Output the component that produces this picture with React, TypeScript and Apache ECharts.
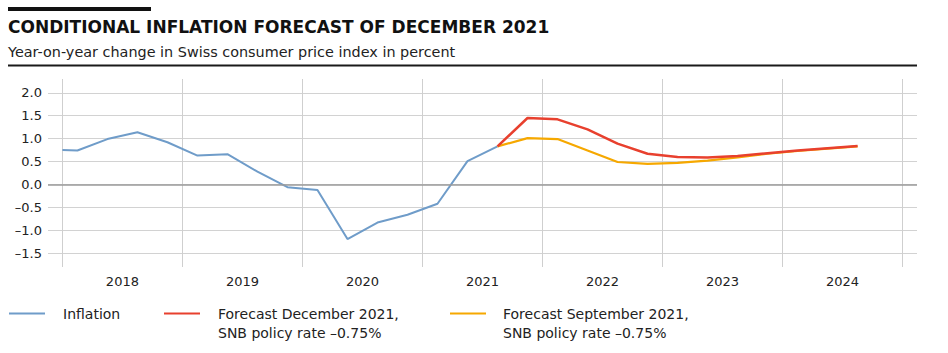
import React, { useEffect, useRef } from "react";
import * as echarts from "echarts";

const TITLE = "CONDITIONAL INFLATION FORECAST OF DECEMBER 2021";
const SUBTITLE = "Year-on-year change in Swiss consumer price index in percent";

const yearTicks = [2018, 2019, 2020, 2021, 2022, 2023, 2024, 2025];
const yearLabelPositions = [2018.5, 2019.5, 2020.5, 2021.5, 2022.5, 2023.5, 2024.5];
const yTicks = [-1.5, -1.0, -0.5, 0.0, 0.5, 1.0, 1.5, 2.0];

const inflationTime = [
  2018.0, 2018.125, 2018.375, 2018.625, 2018.875,
  2019.125, 2019.375, 2019.625, 2019.875,
  2020.125, 2020.375, 2020.625, 2020.875,
  2021.125, 2021.375, 2021.625,
];
const inflationValues = [
  0.75, 0.74, 0.99, 1.14, 0.92,
  0.63, 0.66, 0.28, -0.06,
  -0.12, -1.19, -0.83, -0.66,
  -0.42, 0.51, 0.83,
];

const forecastTime = [
  2021.625, 2021.875,
  2022.125, 2022.375, 2022.625, 2022.875,
  2023.125, 2023.375, 2023.625, 2023.875,
  2024.125, 2024.375, 2024.625,
];
const forecastDec2021 = [0.83, 1.45, 1.42, 1.2, 0.89, 0.67, 0.6, 0.59, 0.62, 0.68, 0.74, 0.79, 0.84];
const forecastSep2021 = [0.83, 1.01, 0.99, 0.74, 0.49, 0.45, 0.47, 0.52, 0.59, 0.67, 0.73, 0.78, 0.83];

const seriesNames = [
  "Inflation",
  "Forecast December 2021,\nSNB policy rate \u20130.75%",
  "Forecast September 2021,\nSNB policy rate \u20130.75%",
];
const seriesColors = ["#6f9cc9", "#e8402e", "#f6a800"];

const FONT = "DejaVu Sans";

function zip(xs: number[], ys: number[]) {
  return xs.map((x, i) => [x, ys[i]]);
}

export default function App() {
  const ref = useRef<HTMLDivElement>(null);
  useEffect(() => {
    if (!ref.current) return;
    const chart = echarts.init(ref.current, undefined, { renderer: "svg" });

    const legendX = [
      { line: [9, 45], text: 63 },
      { line: [164, 200], text: 218 },
      { line: [450, 486], text: 503 },
    ];
    const legendGraphics: any[] = [];
    seriesNames.forEach((name, i) => {
      legendGraphics.push({
        type: "line",
        shape: { x1: legendX[i].line[0], y1: 313.5, x2: legendX[i].line[1], y2: 313.5 },
        style: { stroke: seriesColors[i], lineWidth: 2 },
      });
      legendGraphics.push({
        type: "text",
        x: legendX[i].text,
        y: 304,
        style: {
          text: name,
          font: `14px "${FONT}"`,
          fill: "#222",
          textAlign: "left",
          textVerticalAlign: "top",
          lineHeight: 19,
        },
      });
    });

    chart.setOption({
      animation: false,
      grid: { left: 48, right: 31, top: 79, bottom: 86, containLabel: false },
      xAxis: {
        type: "value",
        min: 2017.88,
        max: 2025.12,
        axisLine: { show: false },
        axisTick: { show: false, customValues: yearTicks },
        splitLine: { show: true, lineStyle: { color: "#cfcfcf", width: 1 } },
        axisLabel: {
          customValues: yearLabelPositions,
          formatter: (v: number) => String(Math.floor(v)),
          fontFamily: FONT,
          fontSize: 13,
          color: "#222",
          margin: 8,
        },
      },
      yAxis: {
        type: "value",
        min: -1.8,
        max: 2.3,
        axisLine: { show: false },
        axisTick: { show: false, customValues: yTicks },
        splitLine: { show: true, lineStyle: { color: "#d2d2d2", width: 1 } },
        axisLabel: {
          customValues: yTicks,
          formatter: (v: number) => (v < 0 ? "\u2013" + Math.abs(v).toFixed(1) : v.toFixed(1)),
          fontFamily: FONT,
          fontSize: 13,
          color: "#222",
          margin: 6,
        },
      },
      graphic: [
        { type: "rect", shape: { x: 8, y: 7, width: 143, height: 4 }, style: { fill: "#111" } },
        {
          type: "text",
          x: 8,
          y: 27,
          style: {
            text: TITLE,
            font: `bold 17px "${FONT}"`,
            fill: "#111",
            textAlign: "left",
            textVerticalAlign: "middle",
          },
        },
        {
          type: "text",
          x: 8,
          y: 52,
          style: {
            text: SUBTITLE,
            font: `14.4px "${FONT}"`,
            fill: "#222",
            textAlign: "left",
            textVerticalAlign: "middle",
          },
        },
        {
          type: "line",
          shape: { x1: 8, y1: 65.5, x2: 917, y2: 65.5 },
          style: { stroke: "#1a1a1a", lineWidth: 2.2 },
        },
        ...legendGraphics,
      ],
      series: [
        {
          name: seriesNames[0],
          type: "line",
          data: zip(inflationTime, inflationValues),
          showSymbol: false,
          lineStyle: { color: seriesColors[0], width: 2 },
          z: 3,
          markLine: {
            silent: true,
            symbol: "none",
            label: { show: false },
            lineStyle: { color: "#9b9b9b", width: 1.5, type: "solid" },
            data: [{ yAxis: 0 }],
          },
        },
        {
          name: seriesNames[2],
          type: "line",
          data: zip(forecastTime, forecastSep2021),
          showSymbol: false,
          lineStyle: { color: seriesColors[2], width: 2.2 },
          z: 4,
        },
        {
          name: seriesNames[1],
          type: "line",
          data: zip(forecastTime, forecastDec2021),
          showSymbol: false,
          lineStyle: { color: seriesColors[1], width: 2.5 },
          z: 5,
        },
      ],
    });
    return () => chart.dispose();
  }, []);
  return (
    <div
      ref={ref}
      style={{ position: "absolute", left: 0, top: 0, width: 948, height: 353 }}
    />
  );
}
